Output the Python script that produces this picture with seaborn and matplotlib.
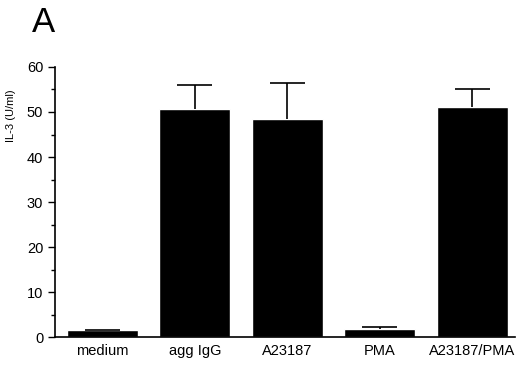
import numpy as np
import pandas as pd
import seaborn as sns
from matplotlib import pyplot as plt
from matplotlib.ticker import MultipleLocator

sns.set_style("ticks", {'axes.edgecolor': 'black', 'text.color': 'black',
                        'xtick.color': 'black', 'ytick.color': 'black',
                        'axes.labelcolor': 'black'})
plt.rcParams['font.family'] = ['Liberation Sans', 'DejaVu Sans']

conditions = ['medium', 'agg IgG', 'A23187', 'PMA', 'A23187/PMA']
il3 = [1.5, 50.6, 48.4, 1.8, 51.0]
il3_err = [0.15, 5.5, 8.0, 0.35, 4.2]

df = pd.DataFrame({'condition': conditions, 'IL-3': il3})

fig = plt.figure(figsize=(5.2, 3.66), dpi=100)
ax = fig.add_axes([0.106, 0.079, 0.884, 0.738])

sns.barplot(data=df, x='condition', y='IL-3', color='black', width=0.77,
            errorbar=None, saturation=1, ax=ax)

# upper error bars only
xpos = np.arange(len(conditions))
tops = np.array(il3) + np.array(il3_err)
ax.vlines(xpos, il3, tops, color='black', lw=1.2)
ax.hlines(tops, xpos - 0.19, xpos + 0.19, color='black', lw=1.2)

ax.set_xlim(-0.51, 4.46)
ax.set_ylim(0, 60)
ax.yaxis.set_major_locator(MultipleLocator(10))
ax.yaxis.set_minor_locator(MultipleLocator(5))
ax.tick_params(axis='y', which='major', length=5, width=1, labelsize=10.5)
ax.tick_params(axis='y', which='minor', length=3, width=1)
ax.tick_params(axis='x', length=0, labelsize=10.5, pad=5)
ax.set_xlabel('')
ax.set_ylabel('IL-3 (U/ml)', fontsize=8)
ax.yaxis.set_label_coords(-0.085, 0.82)
sns.despine(ax=ax, top=True, right=True)
ax.spines['left'].set_linewidth(1.2)
ax.spines['bottom'].set_linewidth(1.2)

fig.text(0.062, 0.912, 'A', fontsize=25)

plt.savefig('out.png', dpi=100)
